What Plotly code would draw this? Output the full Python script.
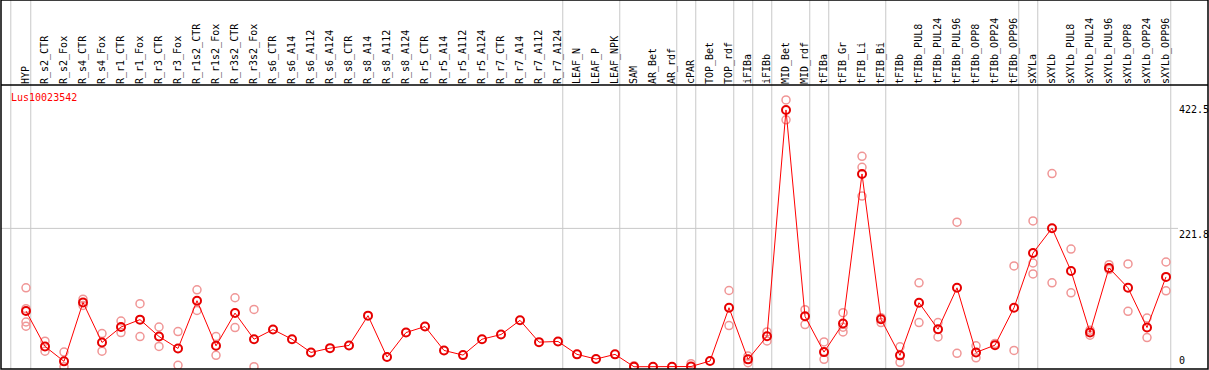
import plotly.graph_objects as go

gene_id = "Lus10023542"

categories = [
    "HYP", "R_s2_CTR", "R_s2_Fox", "R_s4_CTR", "R_s4_Fox", "R_r1_CTR", "R_r1_Fox",
    "R_r3_CTR", "R_r3_Fox", "R_r1s2_CTR", "R_r1s2_Fox", "R_r3s2_CTR", "R_r3s2_Fox",
    "R_s6_CTR", "R_s6_A14", "R_s6_A112", "R_s6_A124", "R_s8_CTR", "R_s8_A14",
    "R_s8_A112", "R_s8_A124", "R_r5_CTR", "R_r5_A14", "R_r5_A112", "R_r5_A124",
    "R_r7_CTR", "R_r7_A14", "R_r7_A112", "R_r7_A124", "LEAF_N", "LEAF_P", "LEAF_NPK",
    "SAM", "AR_Bet", "AR_rdf", "cPAR", "TOP_Bet", "TOP_rdf", "iFIBa", "iFIBb",
    "MID_Bet", "MID_rdf", "tFIBa", "tFIB_Gr", "tFIB_Li", "tFIB_Bi", "tFIBb",
    "tFIBb_PUL8", "tFIBb_PUL24", "tFIBb_PUL96", "tFIBb_OPP8", "tFIBb_OPP24",
    "tFIBb_OPP96", "sXYLa", "sXYLb", "sXYLb_PUL8", "sXYLb_PUL24", "sXYLb_PUL96",
    "sXYLb_OPP8", "sXYLb_OPP24", "sXYLb_OPP96",
]

means = [
    89.2, 32.5, 8.6, 103.1, 38.9, 63.7, 75.5, 48.4, 29.3, 105.8, 33.5, 86.0, 44.1,
    59.6, 44.1, 22.9, 29.8, 34.1, 81.9, 15.5, 54.8, 64.4, 26.1, 18.6, 44.1,
    51.6, 74.4, 39.4, 40.5, 19.8, 12.3, 19.8,
    0.0, 0.0, 0.0, 0.3, 9.1, 94.6, 11.8, 48.9,
    411.7, 80.8, 23.4, 69.2, 309.1, 76.0, 18.2,
    102.6, 60.1, 126.5, 22.9, 34.6,
    94.6, 182.3, 222.1, 153.6, 54.8, 158.4,
    126.5, 62.8, 144.0,
]

replicates = [
    [126.5, 93.1, 71.7, 64.9], [41.0, 25.0], [23.4, 0.0], [108.3, 98.3], [53.2, 25.0],
    [73.3, 54.8], [101.0, 48.4], [63.7, 32.5], [56.4, 2.2], [123.3, 90.3],
    [48.4, 18.2], [110.6, 62.8], [91.9, 0.0],
    [], [], [], [], [], [], [], [], [], [], [], [], [], [], [], [], [], [], [],
    [1.6], [], [], [4.8], [], [122.2, 66.0], [17.0, 6.4], [55.8, 41.4],
    [427.7, 395.8], [91.5, 67.6], [39.8, 11.8], [86.7, 63.3, 55.8],
    [337.3, 319.8, 273.6], [78.7, 70.7], [31.9, 7.0],
    [134.5, 70.7], [70.7, 47.8], [231.7, 21.4], [33.5, 14.3], [37.3],
    [161.6, 26.1], [233.7, 166.3, 148.8], [309.7, 134.5], [188.7, 118.5],
    [58.5, 50.5], [163.6, 155.7],
    [164.8, 88.8], [78.1, 46.8], [167.9, 121.7],
]

group_ends = ["HYP", "R_r7_A124", "LEAF_NPK", "AR_rdf", "cPAR", "TOP_rdf", "iFIBa",
              "iFIBb", "MID_rdf", "tFIBa", "tFIB_Bi", "tFIBb_OPP96", "sXYLa",
              "sXYLb_OPP96"]

y_tick_values = [422.5, 221.8, 0]
y_tick_labels = ["422.5", "221.8", "0"]

# ---- layout geometry ----
W, H = 1209, 370
ML, MR, MT, MB = 1, 1, 85, 1
plot_w = W - ML - MR
plot_h = H - MT - MB
x_range = [-1.316, 62.21]
y_range = [-3.66, 451.7]
top_paper = 1 + MT / plot_h

FONT = "DejaVu Sans Mono"
GRID = "rgb(200,200,200)"

idx = list(range(len(categories)))

rep_x, rep_y = [], []
for i, reps in enumerate(replicates):
    for v in reps:
        rep_x.append(i)
        rep_y.append(v)

fig = go.Figure()
fig.add_trace(go.Scatter(
    x=rep_x, y=rep_y, mode="markers",
    marker=dict(symbol="circle-open", size=8, color="rgb(240,150,150)",
                line=dict(width=1.5)),
    hoverinfo="skip", showlegend=False, cliponaxis=True,
))
fig.add_trace(go.Scatter(
    x=idx, y=means, mode="lines+markers",
    line=dict(color="rgb(255,0,0)", width=1),
    marker=dict(symbol="circle-open", size=8, color="rgb(230,0,0)",
                line=dict(width=2)),
    showlegend=False, cliponaxis=True,
))

shapes = []
# leading separator line before first category
lead_pos = -0.8
for pos in [lead_pos] + [categories.index(n) + 0.25 for n in group_ends]:
    shapes.append(dict(type="line", xref="x", yref="paper", x0=pos, x1=pos,
                       y0=0, y1=top_paper, line=dict(color=GRID, width=1),
                       layer="below"))
# horizontal grid line for middle tick
label_x_paper = (1178 - ML) / plot_w
shapes.append(dict(type="line", xref="paper", yref="y", x0=0, x1=label_x_paper,
                   y0=y_tick_values[1], y1=y_tick_values[1],
                   line=dict(color=GRID, width=1), layer="below"))
# outer frame and divider
shapes.append(dict(type="rect", xref="paper", yref="paper", x0=0, x1=1,
                   y0=0, y1=top_paper, line=dict(color="black", width=1.5)))
shapes.append(dict(type="line", xref="paper", yref="paper", x0=0, x1=1,
                   y0=1, y1=1, line=dict(color="black", width=1.5)))

annotations = [dict(text=gene_id, xref="paper", yref="paper",
                    x=(9 - ML) / plot_w, y=(H - MB - 97) / plot_h,
                    xanchor="left", yanchor="middle", showarrow=False,
                    font=dict(family=FONT, size=10, color="red"))]
for v, t in zip(y_tick_values, y_tick_labels):
    annotations.append(dict(text=t, xref="paper", yref="y", x=label_x_paper, y=v,
                            xanchor="left", yanchor="bottom" if v == 0 else "top",
                            showarrow=False, borderpad=0,
                            font=dict(family=FONT, size=10, color="black")))

fig.update_layout(
    width=W, height=H,
    margin=dict(l=ML, r=MR, t=MT, b=MB, pad=0, autoexpand=False),
    paper_bgcolor="white", plot_bgcolor="white",
    shapes=shapes, annotations=annotations,
    xaxis=dict(range=x_range, side="top", tickmode="array", tickvals=idx,
               ticktext=categories, tickangle=-90, ticks="", showgrid=False,
               zeroline=False, showline=False, fixedrange=True, automargin=False,
               tickfont=dict(family=FONT, size=10, color="black")),
    yaxis=dict(range=y_range, showticklabels=False, ticks="", showgrid=False,
               zeroline=False, showline=False, fixedrange=True, automargin=False),
)

fig.write_html(
    "out.html",
    config={"displayModeBar": False},
    post_script="document.body.style.margin='0';document.body.style.overflow='hidden';",
)
